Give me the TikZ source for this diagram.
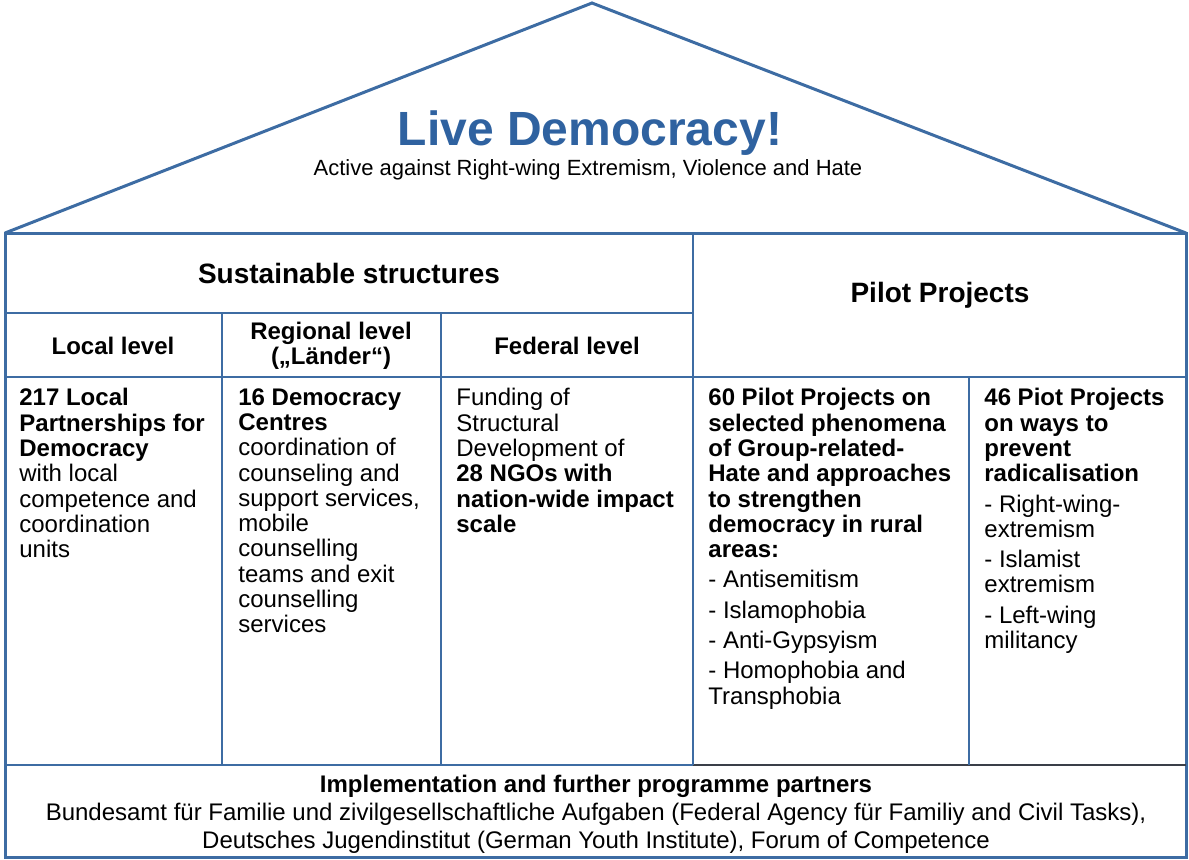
\documentclass[tikz,border=0pt]{standalone}
\usepackage{fontspec}
\setmainfont{Liberation Sans}
\usetikzlibrary{positioning}
\definecolor{houseblue}{HTML}{3D6CA3}
\definecolor{titleblue}{HTML}{2F62A0}
\definecolor{darkrule}{HTML}{3A3F48}

\begin{document}
\begin{tikzpicture}[x=0.5pt,y=-0.5pt]
\tikzstyle{wall}=[draw=houseblue, line width=1.5pt, line join=miter]
\tikzstyle{rule}=[draw=houseblue, line width=1pt]
\tikzstyle{head}=[inner sep=0pt, font=\fontsize{14}{16}\selectfont\bfseries]
\tikzstyle{level}=[inner sep=0pt, align=center, font=\fontsize{12}{12.6}\selectfont\bfseries]
\tikzstyle{cell}=[anchor=north west, inner sep=0pt, align=left, font=\fontsize{12}{12.65}\selectfont]

\useasboundingbox (0,0) rectangle (1189,859);

% house outline
\coordinate (roof) at (592,3);
\coordinate (nw) at (5,233);
\coordinate (ne) at (1186,233);
\coordinate (sw) at (5,857);
\coordinate (se) at (1186,857);
\draw[wall] (nw) -- (roof) -- (ne);
\draw[wall] (sw) -- (nw) -- (ne) -- (se) -- cycle;

% inner rules
\draw[rule] (5,313) -- (693,313);
\draw[rule] (5,377) -- (1186,377);
\draw[rule] (5,765) -- (693,765);
\draw[darkrule, line width=1pt] (693,765) -- (1186,765);
\draw[rule] (693,233) -- (693,765);
\draw[rule] (222,313) -- (222,765);
\draw[rule] (441,313) -- (441,765);
\draw[rule] (969,377) -- (969,765);

% title
\node[inner sep=0pt, text=titleblue, font=\fontsize{24}{28}\selectfont\bfseries] (title) at (590,133) {Live Democracy!};
\node[inner sep=0pt, font=\fontsize{11}{13}\selectfont] (subtitle) at (588,170) {Active against Right-wing Extremism, Violence and Hate};

% headers
\node[head] (sustain) at (349,273) {Sustainable structures};
\node[head] (pilot) at (940,295) {Pilot Projects};
\node[level] (local) at (113,346) {Local level};
\node[level] (regional) at (331,346) {Regional level\\(„Länder“)};
\node[level] (federal) at (567,346) {Federal level};

% columns
\node[cell] (partners) at (19,388) {\textbf{217 Local}\\\textbf{Partnerships for}\\\textbf{Democracy}\\with local\\competence and\\coordination\\units};
\node[cell] (centres) at (238,388) {\textbf{16 Democracy}\\\textbf{Centres}\\coordination of\\counseling and\\support services,\\mobile\\counselling\\teams and exit\\counselling\\services};
\node[cell] (ngos) at (456,388) {Funding of\\Structural\\Development of\\\textbf{28 NGOs with}\\\textbf{nation-wide impact}\\\textbf{scale}};
\node[cell] (hate) at (708,388) {\textbf{60 Pilot Projects on}\\\textbf{selected phenomena}\\\textbf{of Group-related-}\\\textbf{Hate and approaches}\\\textbf{to strengthen}\\\textbf{democracy in rural}\\\textbf{areas:}\\[2.5pt]- Antisemitism\\[2.5pt]- Islamophobia\\[2.5pt]- Anti-Gypsyism\\[2.5pt]- Homophobia and\\Transphobia};
\node[cell] (radical) at (984,388) {\textbf{46 Piot Projects}\\\textbf{on ways to}\\\textbf{prevent}\\\textbf{radicalisation}\\[2.5pt]- Right-wing-\\extremism\\[2.5pt]- Islamist\\extremism\\[2.5pt]- Left-wing\\militancy};

% partners row
\node[inner sep=0pt, align=center, font=\fontsize{12}{14}\selectfont] (impl) at (596,814) {\textbf{Implementation and further programme partners}\\Bundesamt für Familie und zivilgesellschaftliche Aufgaben (Federal Agency für Familiy and Civil Tasks),\\Deutsches Jugendinstitut (German Youth Institute), Forum of Competence};

\end{tikzpicture}
\end{document}
